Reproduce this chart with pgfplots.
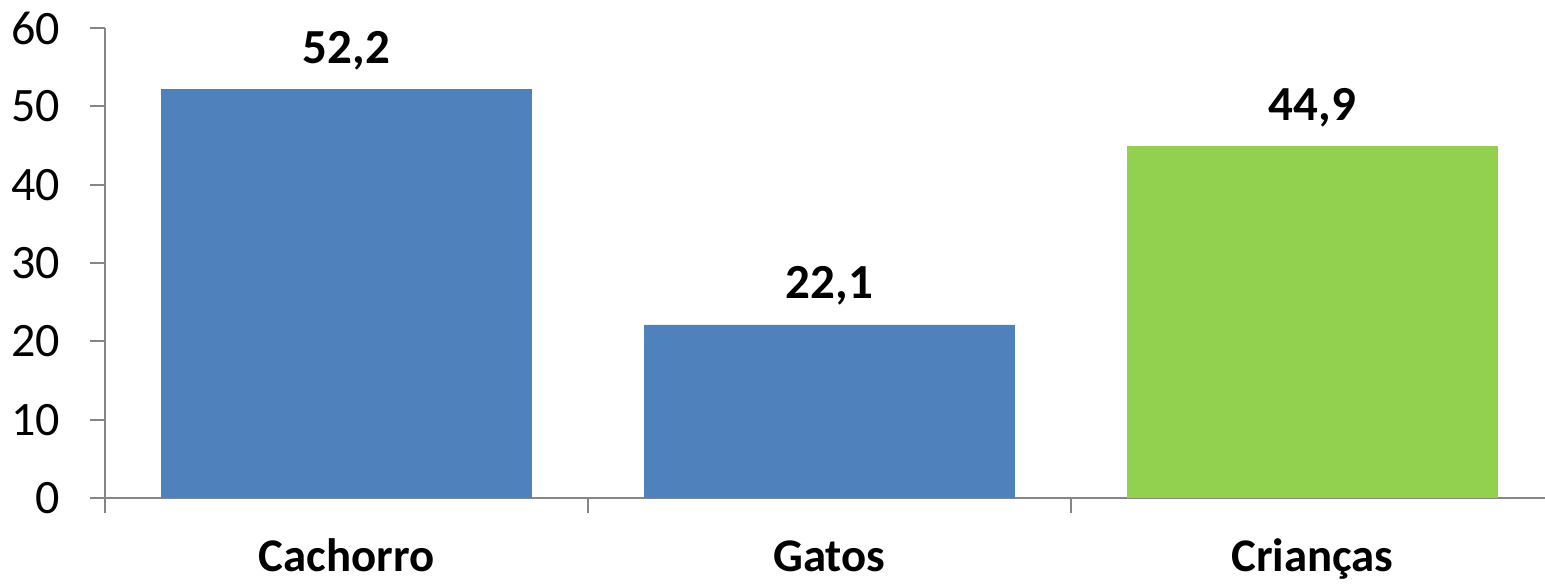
\documentclass[border=0pt]{standalone}
\usepackage{pgfplots}
\pgfplotsset{compat=1.18}
\usepackage{fontspec}
\setmainfont{Carlito}
\definecolor{barblue}{HTML}{4F81BD}
\definecolor{bargreen}{HTML}{92D050}
\definecolor{axgray}{HTML}{868686}
\begin{document}
\begin{tikzpicture}
\begin{axis}[
  at={(0,0)}, anchor=south west,
  scale only axis,
  width=720pt, height=235pt,
  xmin=-0.5, xmax=2.4814,
  ymin=0, ymax=60,
  ybar, bar shift=0pt, bar width=0.768,
  axis lines*=left,
  axis line style={draw=axgray, line width=1pt},
  every tick/.style={draw=axgray, line width=1pt},
  tick align=outside,
  major tick length=7.5pt,
  ytick={0,10,20,30,40,50,60},
  ytick pos=left, xtick pos=bottom,
  xtick={-0.5,0.5,1.5},
  xticklabels={,,},
  extra x ticks={0,1,2},
  extra x tick labels={Cachorro,Gatos,Crianças},
  extra x tick style={major tick length=0pt,
    xticklabel style={font=\fontsize{23.4pt}{27pt}\selectfont\bfseries, anchor=base, yshift=-36.5pt}},
  /pgf/number format/assume math mode=true,
  yticklabel style={font=\fontsize{24pt}{28pt}\selectfont, anchor=east, xshift=-11.5pt},
  nodes near coords={\pgfmathprintnumber[assume math mode=true,use comma,fixed,fixed zerofill,precision=1]{\pgfplotspointmeta}},
  every node near coord/.append style={font=\fontsize{24.5pt}{28pt}\selectfont\bfseries, anchor=base, yshift=13pt, text=black},
  clip=false,
]
\addplot[fill=barblue, draw=none] coordinates {(0,52.2) (1,22.1)};
\addplot[fill=bargreen, draw=none] coordinates {(2,44.9)};
\end{axis}
\pgfresetboundingbox
\useasboundingbox (-52.5pt,-42.5pt) rectangle (720pt,249pt);
\end{tikzpicture}
\end{document}
